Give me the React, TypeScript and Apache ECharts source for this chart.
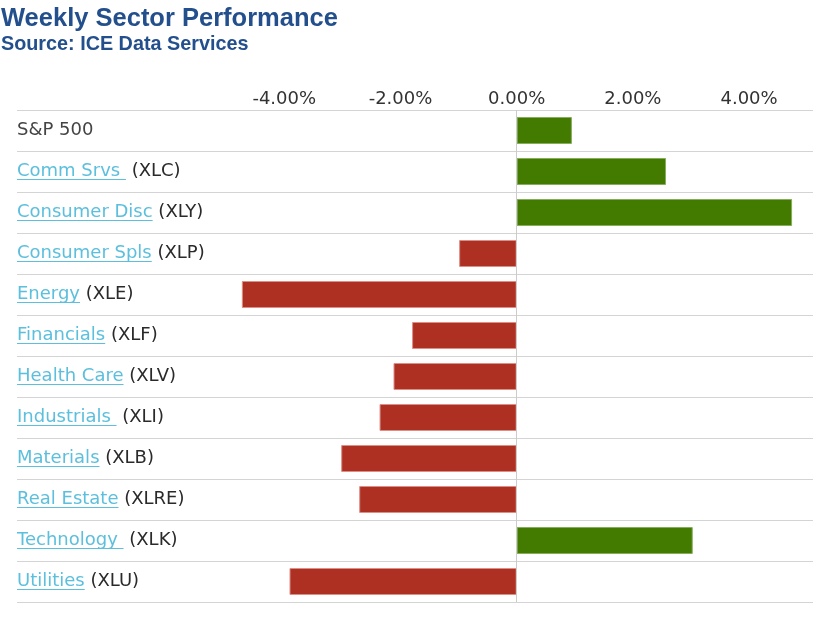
import React, { useEffect, useRef } from 'react';
import * as echarts from 'echarts';

const linkNames = ['S&P 500', 'Comm Srvs ', 'Consumer Disc', 'Consumer Spls', 'Energy', 'Financials', 'Health Care', 'Industrials ', 'Materials', 'Real Estate', 'Technology ', 'Utilities'];
const tickers = ['', '(XLC)', '(XLY)', '(XLP)', '(XLE)', '(XLF)', '(XLV)', '(XLI)', '(XLB)', '(XLRE)', '(XLK)', '(XLU)'];
const weeklyChange = [0.95, 2.57, 4.74, -0.99, -4.73, -1.8, -2.12, -2.36, -3.02, -2.71, 3.03, -3.91];
const tickValues = [-4, -2, 0, 2, 4];

const FONT = '"DejaVu Sans", Verdana, sans-serif';
const FS = 18;
const LINK = '#5bbfdd';
const GREEN = '#437a00';
const RED = '#ad3022';
const TITLE = '#234f8d';

export default function App() {
  const ref = useRef<HTMLDivElement>(null);
  useEffect(() => {
    if (!ref.current) return;
    const chart = echarts.init(ref.current, undefined, { renderer: 'svg' });
    const categories = linkNames.map((n, i) => (tickers[i] ? `${n.trim()} ${tickers[i]}` : n));
    const option: any = {
      animation: false,
      title: {
        text: 'Weekly Sector Performance',
        subtext: 'Source: ICE Data Services',
        left: 1,
        top: 4,
        padding: 0,
        itemGap: 3,
        textStyle: { fontFamily: '"Liberation Sans", Arial, sans-serif', fontWeight: 'bold', fontSize: 25.5, color: TITLE },
        subtextStyle: { fontFamily: '"Liberation Sans", Arial, sans-serif', fontWeight: 'bold', fontSize: 19.8, color: TITLE },
      },
      grid: { left: 17, right: 15, top: 110, bottom: 21, containLabel: false },
      xAxis: {
        type: 'value',
        position: 'top',
        min: -8.6,
        max: 5.1,
        axisLine: { show: false },
        axisTick: { show: false },
        splitLine: { show: false },
        axisLabel: {
          customValues: tickValues,
          margin: 4,
          fontFamily: FONT,
          fontSize: FS,
          color: '#333',
          formatter: (v: number) => v.toFixed(2) + '%',
        },
      },
      yAxis: {
        type: 'category',
        inverse: true,
        data: categories,
        axisLine: { show: false },
        axisTick: { show: false },
        splitLine: { show: true, lineStyle: { color: '#d4d4d4', width: 1 } },
        axisLabel: {
          inside: true,
          margin: 0,
          padding: [0, 0, 4, 0],
          formatter: (_v: string, i: number) =>
            tickers[i] ? `{lk|${linkNames[i]}}{tk| ${tickers[i]}}` : `{sp|${linkNames[i]}}`,
          rich: {
            lk: { color: LINK, fontFamily: FONT, fontSize: FS },
            tk: { color: '#2a2a2a', fontFamily: FONT, fontSize: FS },
            sp: { color: '#444', fontFamily: FONT, fontSize: FS },
          },
        },
      },
      series: [
        {
          type: 'bar',
          barWidth: 27,
          data: weeklyChange.map((v) => ({
            value: v,
            itemStyle: {
              color: v >= 0 ? GREEN : RED,
              borderColor: v >= 0 ? '#86ad5c' : '#dc8f86',
              borderWidth: 1,
            },
          })),
          markLine: {
            silent: true,
            symbol: 'none',
            label: { show: false },
            lineStyle: { color: '#cccccc', type: 'solid', width: 1 },
            data: [{ xAxis: 0 }],
          },
        },
      ],
    };
    chart.setOption(option);

    const ctx = document.createElement('canvas').getContext('2d');
    if (ctx) {
      ctx.font = `${FS}px ${FONT}`;
      const lines: any[] = [];
      linkNames.forEach((n, i) => {
        if (!tickers[i]) return;
        const y = chart.convertToPixel({ yAxisIndex: 0 }, i) as number;
        const w = ctx.measureText(n).width;
        const yy = Math.round(y + 7) + 0.5;
        lines.push({
          type: 'line',
          silent: true,
          shape: { x1: 17, y1: yy, x2: 17 + w, y2: yy },
          style: { stroke: LINK, lineWidth: 1 },
        });
      });
      chart.setOption({ graphic: lines });
    }
    return () => chart.dispose();
  }, []);
  return <div ref={ref} style={{ position: 'fixed', left: 0, top: 0, width: 828, height: 623 }} />;
}
